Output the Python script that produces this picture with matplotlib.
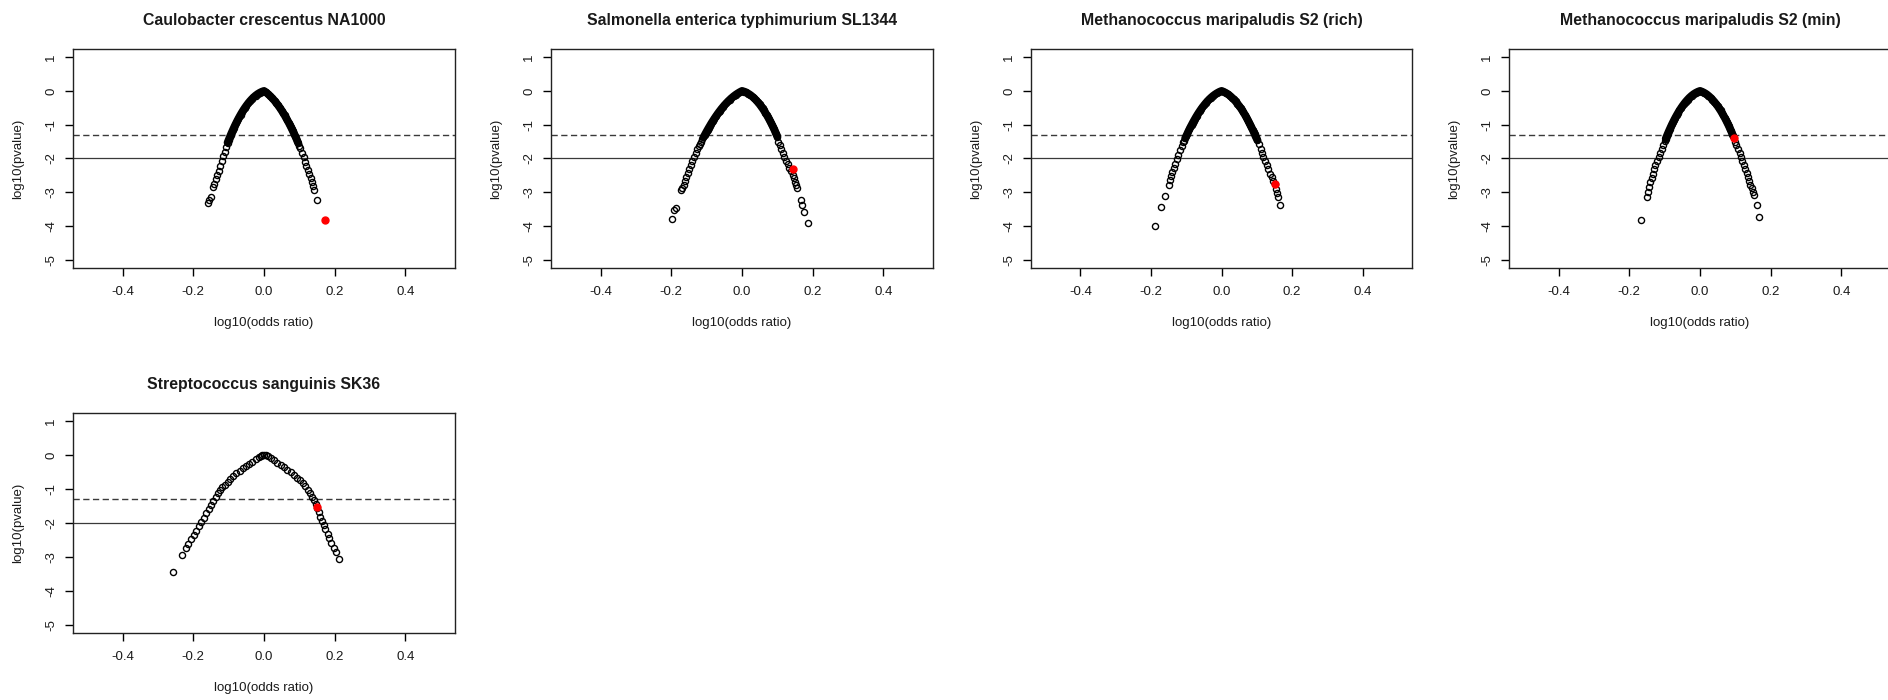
import matplotlib
matplotlib.use("Agg")
import matplotlib.pyplot as plt

plt.rcParams['font.family'] = ['Liberation Sans', 'DejaVu Sans']
plt.rcParams['axes.unicode_minus'] = False

# --- data (log10 odds ratio, log10 p-value) ---
titles = ["Caulobacter crescentus NA1000",
          "Salmonella enterica typhimurium SL1344",
          "Methanococcus maripaludis S2 (rich)",
          "Methanococcus maripaludis S2 (min)",
          "Streptococcus sanguinis SK36"]

caulo_x = [-0.159, -0.155, -0.151, -0.144, -0.140, -0.136, -0.132, -0.128, -0.124, -0.119, -0.115, -0.111, -0.107,
           -0.103, -0.100, -0.097, -0.094, -0.091, -0.088, -0.085, -0.082, -0.079, -0.076, -0.073, -0.070, -0.066,
           -0.062, -0.058, -0.054, -0.050, -0.045, -0.040, -0.035, -0.030, -0.024, -0.018, -0.012, -0.006,
           0.0,
           0.006, 0.012, 0.018, 0.024, 0.030, 0.035, 0.040, 0.045, 0.050, 0.054, 0.058, 0.062, 0.066, 0.070,
           0.073, 0.076, 0.079, 0.082, 0.085, 0.088, 0.091, 0.094, 0.097, 0.100,
           0.103, 0.108, 0.112, 0.116, 0.120, 0.124, 0.128, 0.132, 0.136, 0.139, 0.142, 0.149]
caulo_y = [-3.31, -3.22, -3.14, -2.85, -2.74, -2.62, -2.49, -2.36, -2.22, -2.08, -1.94, -1.80, -1.67,
           -1.529, -1.450, -1.373, -1.298, -1.225, -1.155, -1.086, -1.019, -0.955, -0.892, -0.832, -0.774, -0.699,
           -0.628, -0.561, -0.497, -0.438, -0.368, -0.304, -0.246, -0.194, -0.138, -0.091, -0.053, -0.022,
           0.0,
           -0.045, -0.097, -0.156, -0.221, -0.293, -0.358, -0.428, -0.502, -0.581, -0.648, -0.717, -0.790, -0.865, -0.943,
           -1.004, -1.066, -1.130, -1.196, -1.263, -1.332, -1.403, -1.475, -1.549, -1.625,
           -1.70, -1.84, -1.97, -2.10, -2.22, -2.35, -2.46, -2.58, -2.70, -2.80, -2.92, -3.22]
caulo_hit = (0.173, -3.81)

salmo_x = [-0.197, -0.191, -0.187, -0.172, -0.169, -0.165, -0.161, -0.157, -0.153, -0.149, -0.145, -0.140, -0.135,
           -0.130, -0.126,
           -0.121, -0.118, -0.115, -0.112, -0.109, -0.106, -0.103, -0.100, -0.097, -0.094, -0.091, -0.088, -0.085,
           -0.082, -0.079, -0.076, -0.073, -0.070, -0.066, -0.062, -0.058, -0.054, -0.050, -0.045, -0.040, -0.035,
           -0.030, -0.024, -0.018, -0.012, -0.006,
           0.0,
           0.006, 0.012, 0.018, 0.024, 0.030, 0.035, 0.040, 0.045, 0.050, 0.054, 0.058, 0.062, 0.066, 0.070,
           0.073, 0.076, 0.079, 0.082, 0.085, 0.088, 0.091, 0.094, 0.097, 0.100,
           0.103, 0.107, 0.111, 0.116, 0.120, 0.124, 0.129, 0.134, 0.139, 0.143, 0.146, 0.149, 0.152, 0.155,
           0.166, 0.170, 0.175, 0.188]
salmo_y = [-3.79, -3.51, -3.47, -2.94, -2.87, -2.78, -2.66, -2.54, -2.42, -2.31, -2.20, -2.07, -1.95,
           -1.83, -1.71,
           -1.627, -1.562, -1.499, -1.437, -1.375, -1.315, -1.256, -1.199, -1.143, -1.088, -1.035, -0.981, -0.930,
           -0.881, -0.832, -0.785, -0.739, -0.694, -0.635, -0.580, -0.526, -0.475, -0.426, -0.368, -0.313, -0.262,
           -0.214, -0.161, -0.113, -0.071, -0.033,
           0.0,
           -0.019, -0.046, -0.081, -0.123, -0.174, -0.223, -0.276, -0.336, -0.400, -0.456, -0.515, -0.578, -0.644, -0.714,
           -0.769, -0.825, -0.885, -0.945, -1.008, -1.072, -1.139, -1.207, -1.278, -1.350,
           -1.50, -1.61, -1.72, -1.84, -1.95, -2.06, -2.17, -2.27, -2.38, -2.49, -2.59, -2.69, -2.79, -2.88,
           -3.22, -3.37, -3.58, -3.90]
salmo_hit = (0.143, -2.30)

mrich_x = [-0.188, -0.171, -0.159, -0.150, -0.147, -0.144, -0.140, -0.136, -0.131, -0.127, -0.122, -0.118, -0.113,
           -0.109,
           -0.106, -0.103, -0.100, -0.097, -0.094, -0.091, -0.088, -0.085, -0.082, -0.079, -0.076, -0.073, -0.070,
           -0.066, -0.062, -0.058, -0.054, -0.050, -0.045, -0.040, -0.035, -0.030, -0.024, -0.018, -0.012, -0.006,
           0.0,
           0.006, 0.012, 0.018, 0.024, 0.030, 0.035, 0.040, 0.045, 0.050, 0.054, 0.058, 0.062, 0.066, 0.070,
           0.073, 0.076, 0.079, 0.082, 0.085, 0.088, 0.091, 0.094, 0.097,
           0.102, 0.107, 0.112, 0.116, 0.119, 0.124, 0.128, 0.132, 0.137, 0.142, 0.146, 0.151, 0.154, 0.157,
           0.161, 0.166]
mrich_y = [-4.01, -3.44, -3.10, -2.77, -2.65, -2.53, -2.40, -2.28, -2.15, -2.02, -1.89, -1.76, -1.64,
           -1.52,
           -1.474, -1.402, -1.333, -1.266, -1.199, -1.135, -1.072, -1.012, -0.952, -0.895, -0.840, -0.785, -0.733,
           -0.666, -0.602, -0.541, -0.484, -0.429, -0.364, -0.304, -0.250, -0.200, -0.146, -0.100, -0.060, -0.026,
           0.0,
           -0.024, -0.057, -0.096, -0.144, -0.200, -0.253, -0.311, -0.374, -0.443, -0.501, -0.564, -0.630, -0.700, -0.772,
           -0.829, -0.889, -0.950, -1.012, -1.077, -1.144, -1.212, -1.284, -1.356,
           -1.46, -1.58, -1.71, -1.83, -1.95, -2.07, -2.20, -2.32, -2.45, -2.55, -2.66, -2.76, -2.89, -3.02,
           -3.14, -3.37]
mrich_hit = (0.151, -2.76)

mmin_x = [-0.168, -0.151, -0.148, -0.145, -0.140, -0.135, -0.133, -0.131, -0.126, -0.121, -0.116, -0.112, -0.107,
          -0.104,
          -0.100, -0.097, -0.094, -0.091, -0.088, -0.085, -0.082, -0.079, -0.076, -0.073, -0.070, -0.066, -0.062,
          -0.058, -0.054, -0.050, -0.045, -0.040, -0.035, -0.030, -0.024, -0.018, -0.012, -0.006,
          0.0,
          0.006, 0.012, 0.018, 0.024, 0.030, 0.035, 0.040, 0.045, 0.050, 0.054, 0.058, 0.062, 0.066, 0.070,
          0.073, 0.076, 0.079, 0.082, 0.085, 0.088, 0.091, 0.094,
          0.098, 0.102, 0.107, 0.112, 0.116, 0.120, 0.124, 0.128, 0.132, 0.136, 0.139, 0.142, 0.146, 0.149,
          0.152, 0.160, 0.168]
mmin_y = [-3.81, -3.13, -2.98, -2.84, -2.70, -2.58, -2.45, -2.32, -2.20, -2.08, -1.95, -1.83, -1.71,
          -1.59,
          -1.493, -1.414, -1.337, -1.262, -1.189, -1.119, -1.050, -0.983, -0.920, -0.857, -0.797, -0.721, -0.648,
          -0.579, -0.513, -0.452, -0.380, -0.314, -0.255, -0.200, -0.143, -0.094, -0.055, -0.023,
          0.0,
          -0.023, -0.055, -0.094, -0.143, -0.200, -0.255, -0.314, -0.380, -0.452, -0.513, -0.579, -0.648, -0.721, -0.797,
          -0.857, -0.920, -0.983, -1.050, -1.119, -1.189, -1.262, -1.337,
          -1.50, -1.61, -1.72, -1.83, -1.95, -2.07, -2.19, -2.32, -2.43, -2.55, -2.66, -2.77, -2.88, -2.98,
          -3.08, -3.38, -3.73]
mmin_hit = (0.095, -1.40)

strep_x = [-0.256, -0.233, -0.221, -0.214, -0.206, -0.199, -0.192, -0.185, -0.177, -0.170, -0.163, -0.156,
           -0.149, -0.143, -0.137, -0.131, -0.125, -0.118, -0.111, -0.103, -0.095, -0.087, -0.078, -0.069,
           -0.060, -0.052, -0.043, -0.033, -0.024, -0.014, -0.009, -0.005,
           0.0,
           0.005, 0.010, 0.019, 0.028, 0.038, 0.047, 0.057, 0.066, 0.076, 0.085, 0.093, 0.101, 0.109, 0.116,
           0.123, 0.130, 0.136, 0.142, 0.146, 0.150, 0.155, 0.159, 0.164, 0.169, 0.173, 0.180, 0.185, 0.190,
           0.199, 0.204, 0.211]
strep_y = [-3.44, -2.94, -2.74, -2.62, -2.48, -2.36, -2.24, -2.10, -1.97, -1.85, -1.71, -1.59,
           -1.47, -1.35, -1.24, -1.13, -1.04, -0.95, -0.87, -0.79, -0.71, -0.63, -0.54, -0.46,
           -0.38, -0.31, -0.25, -0.19, -0.12, -0.05, -0.03, -0.01,
           0.0,
           -0.01, -0.03, -0.09, -0.15, -0.22, -0.28, -0.36, -0.43, -0.51, -0.58, -0.66, -0.74, -0.83, -0.92,
           -1.02, -1.12, -1.22, -1.32, -1.43, -1.55, -1.69, -1.81, -1.94, -2.06, -2.19, -2.33, -2.45, -2.59,
           -2.73, -2.84, -3.05]
strep_hit = (0.151, -1.54)

# above this log10 p the points overplot into a solid black band
solid_above = [-1.62, -1.42, -1.47, -1.45, None]

p_cut = -1.30103   # log10(0.05)
p_strict = -2.0    # log10(0.01)

xticks = [-0.4, -0.2, 0.0, 0.2, 0.4]
xtick_labels = ["-0.4", "-0.2", "0.0", "0.2", "0.4"]
yticks = [-5, -4, -3, -2, -1, 0, 1]
ytick_labels = ["-5", "-4", "-3", "-2", "-1", "0", "1"]

panels = [(titles[0], caulo_x, caulo_y, caulo_hit),
          (titles[1], salmo_x, salmo_y, salmo_hit),
          (titles[2], mrich_x, mrich_y, mrich_hit),
          (titles[3], mmin_x, mmin_y, mmin_hit),
          (titles[4], strep_x, strep_y, strep_hit)]

W, H = 1888, 700
# plot boxes in pixels: left, top, right, bottom
boxes = [(73, 49, 455, 268),
         (551, 49, 933, 268),
         (1031, 49, 1412, 268),
         (1509, 49, 1891, 268),
         (73, 413, 455, 633)]

fig = plt.figure(figsize=(W / 100, H / 100), dpi=100)
txt = "#1a1a1a"

for (title, xs, ys, hit), (l, t, r, b), cut in zip(panels, boxes, solid_above):
    ax = fig.add_axes([l / W, 1 - b / H, (r - l) / W, (b - t) / H])
    ax.axhline(p_cut, color="#3a3a3a", lw=1.0, dashes=(4.5, 2.5), zorder=1)
    ax.axhline(p_strict, color="#3a3a3a", lw=0.9, zorder=1)
    if cut is not None:
        band = [(x, y) for x, y in zip(xs, ys) if y >= cut]
        ax.plot([p[0] for p in band], [p[1] for p in band], color="black", lw=5.6,
                solid_joinstyle="round", solid_capstyle="round", zorder=2)
    ax.plot(xs, ys, "o", mfc="none", mec="black", ms=4.4, mew=1.0, zorder=2)
    ax.plot([hit[0]], [hit[1]], "o", color="red", ms=5, zorder=3)

    ax.set_xlim(-0.54, 0.54)
    ax.set_ylim(-5.24, 1.24)
    ax.set_xticks(xticks)
    ax.set_xticklabels(xtick_labels)
    ax.set_yticks(yticks)
    ax.set_yticklabels(ytick_labels, rotation=90, va="center")
    ax.tick_params(axis="both", direction="out", length=5.8, width=1.0,
                   labelsize=9.5, labelcolor=txt)
    ax.tick_params(axis="x", pad=7)
    ax.tick_params(axis="y", pad=5.4)
    for sp in ax.spines.values():
        sp.set_linewidth(1.0)
        sp.set_color("#222222")

    ax.set_title(title, fontsize=11.4, fontweight="bold", color=txt, pad=17)
    ax.set_xlabel("log10(odds ratio)", fontsize=9.5, color=txt)
    ax.xaxis.set_label_coords(0.5, -55 / (b - t))
    ax.xaxis.label.set_va("center")
    ax.set_ylabel("log10(pvalue)", fontsize=9.5, color=txt)
    ax.yaxis.set_label_coords(-55 / (r - l), 0.5)
    ax.yaxis.label.set_va("center")

fig.savefig("out.png", dpi=100)
